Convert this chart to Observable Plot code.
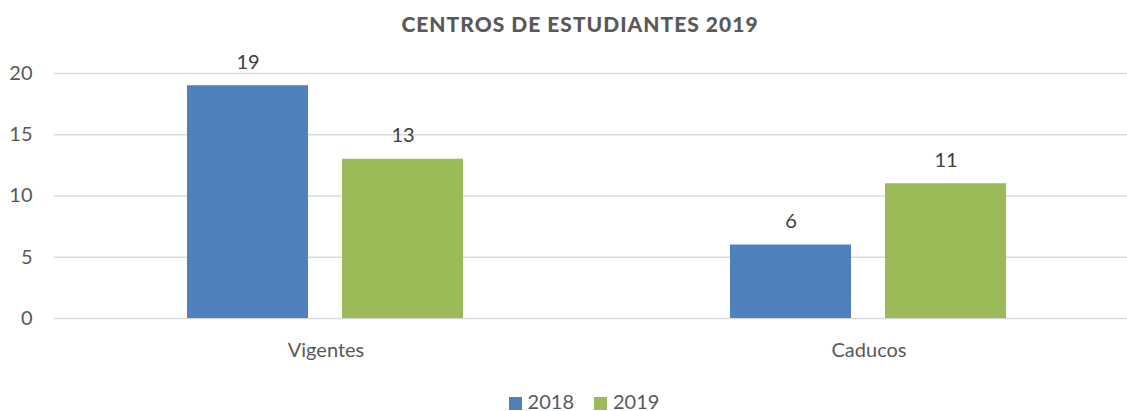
<!DOCTYPE html>
<html><head><meta charset="utf-8">
<script src="https://cdn.jsdelivr.net/npm/d3@7"></script>
<script src="https://cdn.jsdelivr.net/npm/@observablehq/plot@0.6"></script>
<style>
body{margin:0;background:#fff;font-family:Lato,"Open Sans",sans-serif;overflow:hidden}
#wrap{position:relative;width:1127px;height:411px}
#title{position:absolute;left:0;width:1160px;top:11px;text-align:center;font-weight:900;font-size:21px;letter-spacing:1px;color:#595959}
#legend{position:absolute;left:0;width:1168px;top:389px;text-align:center;font-size:20px;color:#595959;white-space:nowrap}
#legend span.sw{display:inline-block;width:13px;height:13px;margin-right:6px;vertical-align:-1px}
#legend span.it{margin:0 10px}
</style></head><body>
<div id="wrap"><div id="title"></div><div id="chart"></div><div id="legend"></div></div>
<script>
const title = "CENTROS DE ESTUDIANTES 2019";
const categories = ["Vigentes", "Caducos"];
const series = ["2018", "2019"];
const values2018 = [19, 6];
const values2019 = [13, 11];
const yTicks = [0, 5, 10, 15, 20];
const colors = ["#4f81bd", "#9bbb59"];

const data = [];
categories.forEach((c, i) => {
  data.push({cat: c, year: series[0], value: values2018[i]});
  data.push({cat: c, year: series[1], value: values2019[i]});
});

document.getElementById("title").textContent = title;
document.getElementById("legend").innerHTML = series.map((s, i) =>
  `<span class="it"><span class="sw" style="background:${colors[i]}"></span>${s}</span>`).join("");

const chart = Plot.plot({
  width: 1127,
  height: 411,
  marginTop: 73,
  marginBottom: 93,
  marginLeft: 54,
  marginRight: -13,
  style: {fontFamily: "Lato, 'Open Sans', sans-serif", color: "#595959", background: "transparent", overflow: "visible"},
  fx: {domain: categories, padding: 0, label: null},
  x: {domain: series, paddingInner: 0.219, paddingOuter: 0.86, axis: null},
  y: {domain: [0, 20], ticks: yTicks, label: null},
  color: {domain: series, range: colors},
  marks: [
    Plot.ruleY(yTicks, {stroke: "#d9d9d9", strokeWidth: 1.3}),
    Plot.barY(data, {fx: "cat", x: "year", y: "value", fill: "year"}),
    Plot.text(data, {fx: "cat", x: "year", y: "value", text: d => String(d.value), lineAnchor: "bottom", dy: -17, fontSize: 20, fill: "#404040"}),
    Plot.axisY(yTicks, {tickSize: 0, tickPadding: 22, fontSize: 20, fill: "#595959", label: null}),
    Plot.axisFx({anchor: "bottom", tickSize: 0, tickPadding: 24, fontSize: 20, fill: "#595959", label: null})
  ]
});
document.getElementById("chart").appendChild(chart);
</script>
</body></html>
